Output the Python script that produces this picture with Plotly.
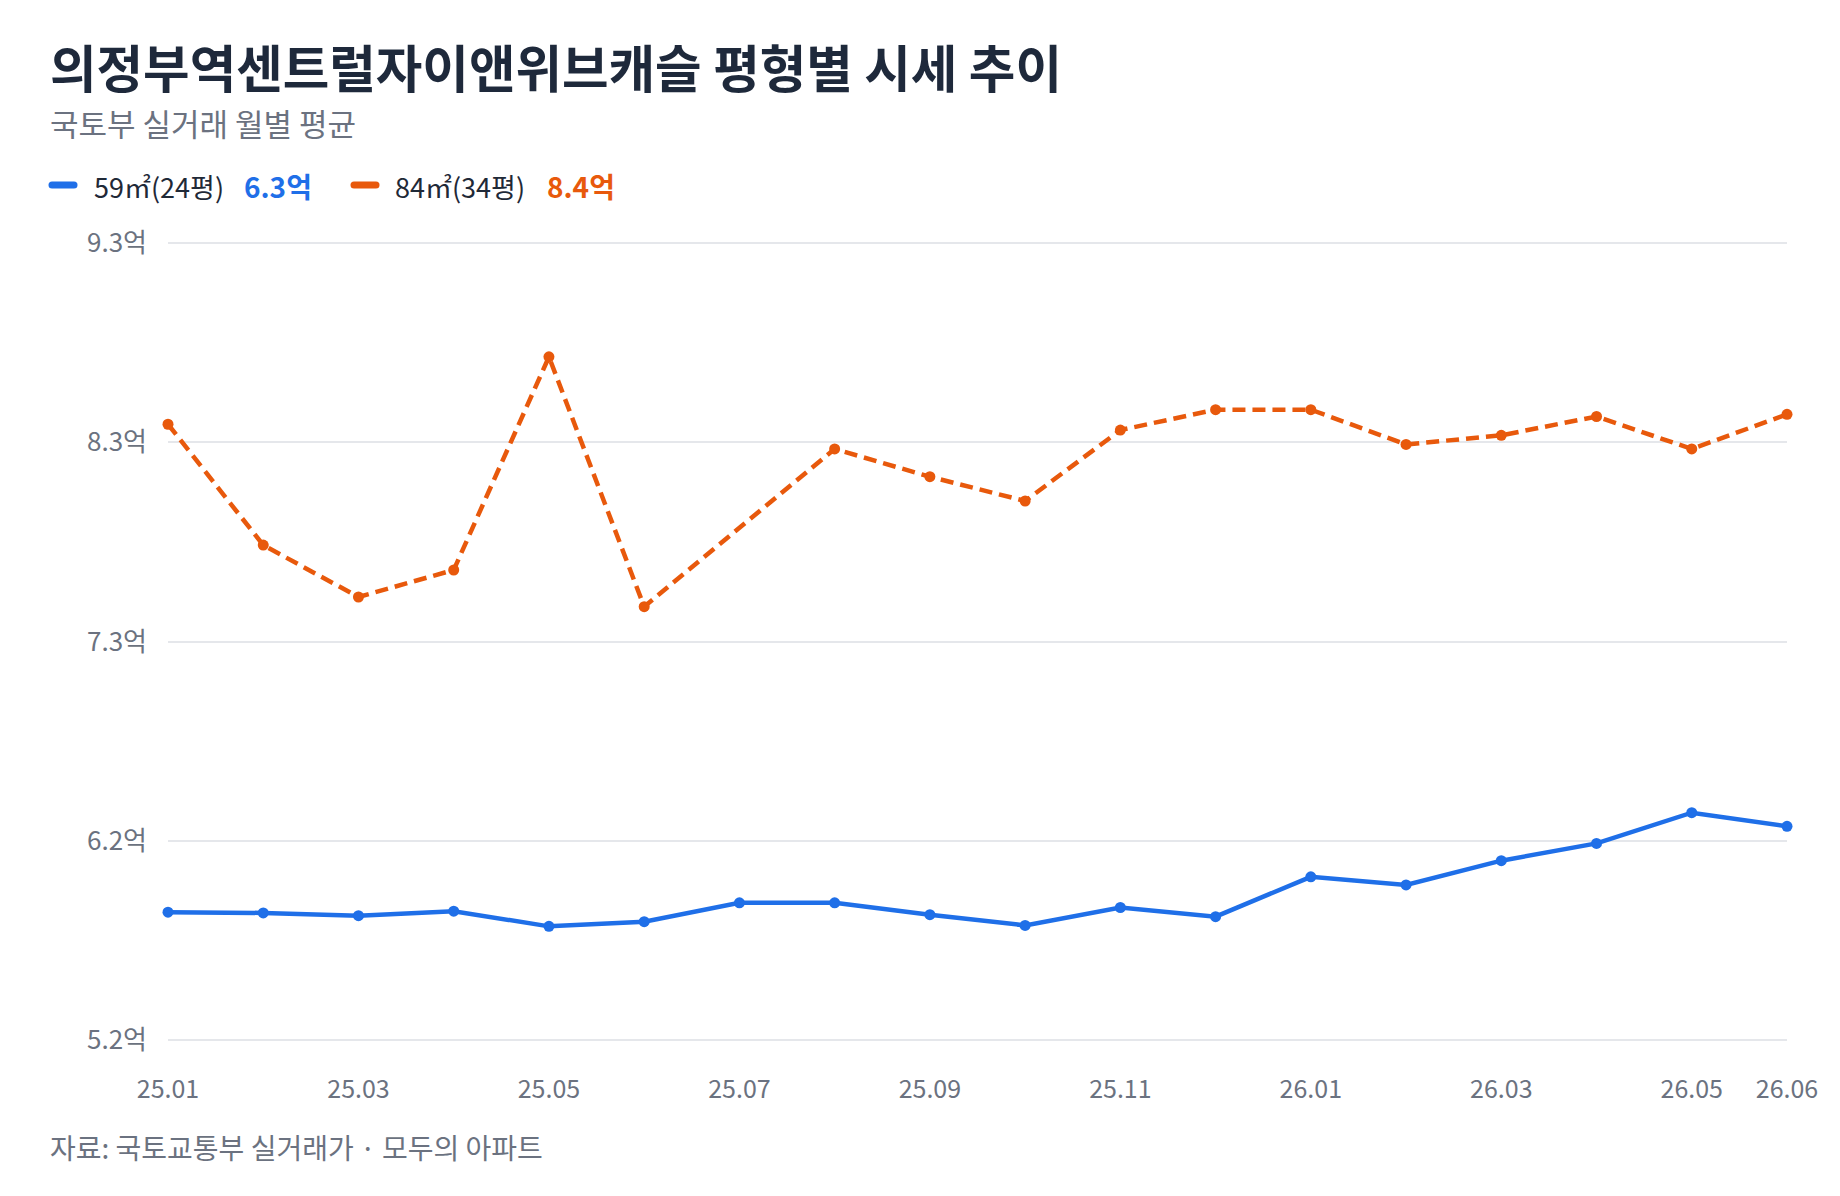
import plotly.graph_objects as go
import numpy as np

months = ["25.01","25.02","25.03","25.04","25.05","25.06","25.07","25.08","25.09",
          "25.10","25.11","25.12","26.01","26.02","26.03","26.04","26.05","26.06"]
price_59 = [5.857, 5.853, 5.839, 5.862, 5.784, 5.808, 5.905, 5.905, 5.844,
            5.789, 5.881, 5.834, 6.039, 5.997, 6.122, 6.211, 6.369, 6.299]
price_84 = [8.368, 7.746, 7.479, 7.618, 8.715, 7.429, None, 8.241, 8.098,
            7.973, 8.338, 8.443, 8.443, 8.264, 8.311, 8.408, 8.241, 8.419]
name_59 = "59㎡(24평)"
name_84 = "84㎡(34평)"
x_tick_labels = ["25.01","25.03","25.05","25.07","25.09","25.11","26.01","26.03","26.05","26.06"]
y_tick_labels = ["5.2억","6.2억","7.3억","8.3억","9.3억"]
y_min, y_max = 5.2, 9.3

BLUE = "#1f6fe8"
ORANGE = "#e8590c"
FONT = "Noto Sans CJK KR"
GRAY = "#6b7280"
DARK = "#1e293b"

W, H = 1840, 1196
L, R, T, B = 168, 53, 242, 155
plot_w = W - L - R
plot_h = H - T - B
pad = 0.006

def px(xp):
    return (xp - L) / plot_w

def py(yp):
    return (H - B - yp) / plot_h

fig = go.Figure()
fig.add_trace(go.Scatter(
    x=months, y=price_84, name=name_84, mode="lines+markers", connectgaps=True,
    line=dict(color=ORANGE, width=4.5, dash="13px,7px"),
    marker=dict(color=ORANGE, size=11), cliponaxis=False, showlegend=False))
fig.add_trace(go.Scatter(
    x=months, y=price_59, name=name_59, mode="lines+markers",
    line=dict(color=BLUE, width=4.5),
    marker=dict(color=BLUE, size=11), cliponaxis=False, showlegend=False))

annotations = [
    dict(text="<b>의정부역센트럴자이앤위브캐슬 평형별 시세 추이</b>", x=px(48), y=py(66),
         font=dict(size=50.6, color=DARK, family=FONT)),
    dict(text="국토부 실거래 월별 평균", x=px(48), y=py(123),
         font=dict(size=31, color=GRAY, family=FONT)),
    dict(text=name_59, x=px(92), y=py(186), font=dict(size=27, color="#1f2937", family=FONT)),
    dict(text=f"<b>{price_59[-1]:.1f}억</b>", x=px(242), y=py(186), font=dict(size=28, color=BLUE, family=FONT)),
    dict(text=name_84, x=px(393), y=py(186), font=dict(size=27, color="#1f2937", family=FONT)),
    dict(text=f"<b>{price_84[-1]:.1f}억</b>", x=px(545), y=py(186), font=dict(size=28, color=ORANGE, family=FONT)),
    dict(text="자료: 국토교통부 실거래가 · 모두의 아파트", x=px(48), y=py(1147),
         font=dict(size=28, color=GRAY, family=FONT)),
]
for a in annotations:
    a.update(xref="paper", yref="paper", xanchor="left", yanchor="middle", showarrow=False)

pill = "M -11,3.5 L 11,3.5 Q 14.5,3.5 14.5,0 Q 14.5,-3.5 11,-3.5 L -11,-3.5 Q -14.5,-3.5 -14.5,0 Q -14.5,3.5 -11,3.5 Z"
shapes = []
for cx, col in [(63, BLUE), (365, ORANGE)]:
    shapes.append(dict(type="path", path=pill, xref="paper", yref="paper",
                       xsizemode="pixel", ysizemode="pixel",
                       xanchor=px(cx), yanchor=py(185),
                       fillcolor=col, line=dict(width=0)))

fig.update_layout(
    width=W, height=H,
    margin=dict(l=L, r=R, t=T, b=B, pad=0),
    paper_bgcolor="white", plot_bgcolor="white",
    font=dict(family=FONT, color=GRAY),
    annotations=annotations, shapes=shapes,
    xaxis=dict(type="category", range=[0, len(months) - 1],
               tickmode="array", tickvals=x_tick_labels, ticktext=x_tick_labels,
               showgrid=False, zeroline=False, showline=False, ticks="",
               tickfont=dict(size=25, color=GRAY, family=FONT), ticklabelstandoff=31),
    yaxis=dict(range=[y_min - pad, y_max + pad], tickmode="array",
               tickvals=list(np.linspace(y_min, y_max, len(y_tick_labels))),
               ticktext=y_tick_labels,
               showgrid=True, gridcolor="#e5e7eb", gridwidth=1.5,
               zeroline=False, showline=False, ticks="",
               tickfont=dict(size=26, color=GRAY, family=FONT), ticklabelstandoff=20),
    hovermode=False,
)

fig.write_html("out.html")
